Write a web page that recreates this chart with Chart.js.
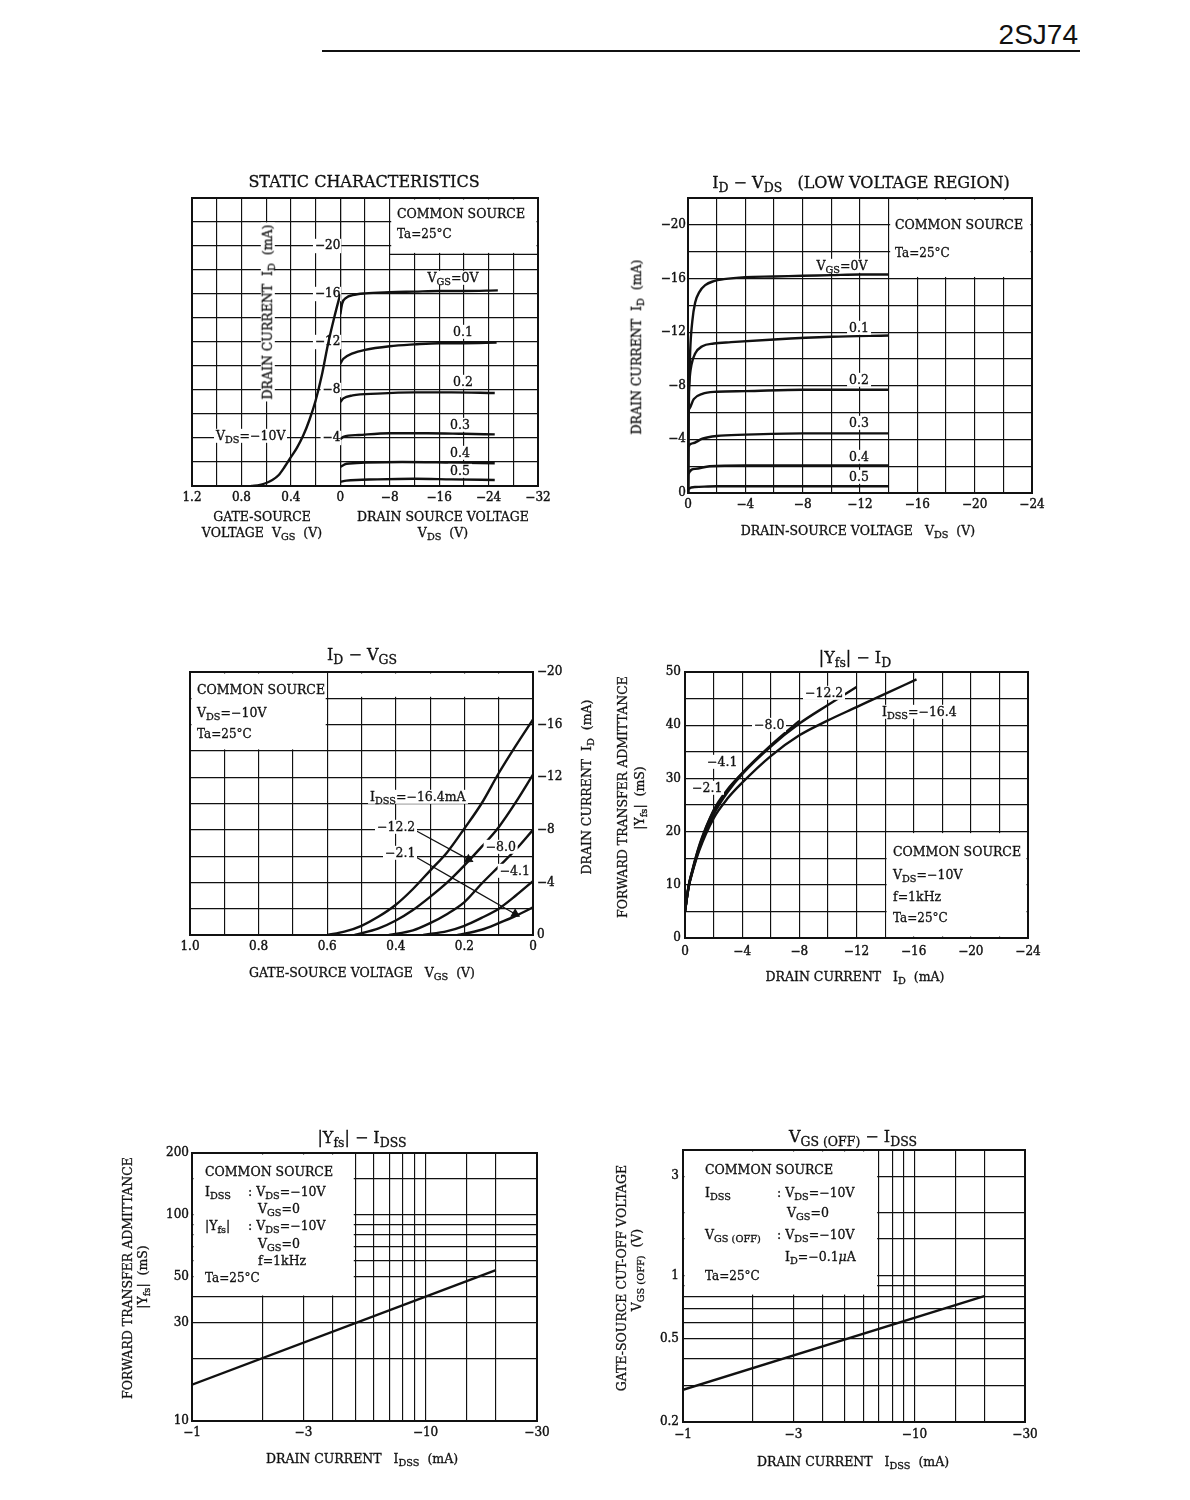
<!DOCTYPE html>
<html>
<head>
<meta charset="utf-8">
<title>2SJ74</title>
<script src="https://cdn.jsdelivr.net/npm/chart.js@4.4.1/dist/chart.umd.min.js"></script>
<style>
  body { margin: 0; background: #fff; }
  #page { position: relative; width: 1190px; height: 1500px; overflow: hidden; background: #fff;
          font-family: "DejaVu Serif", serif; color: #111; }
  #page canvas { position: absolute; }
  .t { position: absolute; white-space: nowrap; font-size: 12.5px; line-height: 1.15; z-index: 2;
       -webkit-text-stroke: 0.3px #111; }
  .t sub { font-size: 78%; vertical-align: -0.3em; line-height: 0; }
  .bg { background: #fff; padding: 0 2px; }
  .rule { position: absolute; background: #111; }
</style>
</head>
<body>
<div id="page"></div>
<script>
// ---- static characteristics: transfer curve at VDS=-10V (VGS axis) ----
const st_vgs = [0.72, 0.65, 0.6, 0.55, 0.5, 0.45, 0.4, 0.35, 0.3, 0.25, 0.2, 0.15, 0.1, 0.05, 0];
const st_id = [0, -0.1, -0.25, -0.5, -0.9, -1.6, -2.4, -3.2, -4.2, -5.5, -7.1, -9.2, -11.8, -14.0, -16.0];
// output curves (VDS axis), VGS = 0 ... 0.5 V
const st_vds0 = [0, -0.3, -1, -2, -4, -8, -12, -16, -20, -25.5];
const st_id0 = [-14.3, -15.2, -15.7, -15.9, -16.05, -16.15, -16.2, -16.25, -16.25, -16.3];
const st_vds1 = [0, -0.5, -2, -4, -8, -12, -16, -20, -25.3];
const st_id1 = [-10.2, -10.6, -11.05, -11.35, -11.65, -11.8, -11.9, -11.9, -11.95];
const st_vds2 = [0, -0.5, -2, -6, -12, -18, -25];
const st_id2 = [-7.0, -7.3, -7.55, -7.7, -7.8, -7.8, -7.75];
const st_vds3 = [0, -0.5, -3, -8, -14, -20, -25];
const st_id3 = [-3.9, -4.1, -4.25, -4.4, -4.4, -4.35, -4.3];
const st_vds4 = [0, -1, -4, -10, -18, -25];
const st_id4 = [-1.6, -1.85, -1.95, -2.0, -1.95, -1.9];
const st_vds5 = [0, -1, -6, -12, -18, -25];
const st_id5 = [-0.35, -0.45, -0.55, -0.6, -0.55, -0.5];

// ---- ID - VDS low voltage region ----
const lv_vds0 = [0, -0.05, -0.15, -0.3, -0.5, -0.8, -1.2, -1.8, -2.5, -4, -6, -8, -10, -12, -14];
const lv_id0 = [0, -6, -10.5, -12.8, -14.2, -15.0, -15.5, -15.8, -15.95, -16.1, -16.15, -16.2, -16.25, -16.3, -16.3];
const lv_vds1 = [0, -0.03, -0.1, -0.25, -0.5, -1, -1.8, -3, -6, -10, -14];
const lv_id1 = [0, -6, -8.3, -9.6, -10.4, -10.95, -11.15, -11.25, -11.45, -11.65, -11.75];
const lv_vds2 = [0, -0.02, -0.1, -0.4, -1, -2, -4, -8, -14];
const lv_id2 = [0, -5.5, -6.3, -7.0, -7.4, -7.55, -7.6, -7.7, -7.7];
const lv_vds3 = [0, -0.02, -0.3, -1, -2, -4, -8, -14];
const lv_id3 = [0, -3.4, -3.7, -4.05, -4.25, -4.35, -4.45, -4.45];
const lv_vds4 = [0, -0.02, -0.5, -1.5, -4, -14];
const lv_id4 = [0, -1.4, -1.8, -2.0, -2.05, -2.05];
const lv_vds5 = [0, -0.02, -0.5, -2, -8, -14];
const lv_id5 = [0, -0.3, -0.45, -0.5, -0.5, -0.5];

// ---- ID - VGS for several IDSS ----
const tr_vgs164 = [0.6, 0.55, 0.5, 0.45, 0.4, 0.35, 0.3, 0.25, 0.2, 0.15, 0.1, 0.05, 0];
const tr_id164 = [0, -0.25, -0.7, -1.4, -2.3, -3.5, -4.9, -6.3, -8.1, -10.0, -12.3, -14.4, -16.4];
const tr_vgs122 = [0.52, 0.45, 0.4, 0.35, 0.3, 0.25, 0.2, 0.15, 0.1, 0.05, 0];
const tr_id122 = [0, -0.5, -1.1, -1.9, -2.9, -4.0, -5.3, -6.7, -8.2, -10.1, -12.2];
const tr_vgs80 = [0.42, 0.35, 0.3, 0.25, 0.2, 0.15, 0.1, 0.05, 0];
const tr_id80 = [0, -0.35, -0.9, -1.6, -2.5, -3.9, -5.2, -6.5, -8.0];
const tr_vgs41 = [0.32, 0.25, 0.2, 0.15, 0.1, 0.05, 0];
const tr_id41 = [0, -0.3, -0.7, -1.3, -2.0, -3.0, -4.1];
const tr_vgs21 = [0.22, 0.15, 0.1, 0.05, 0];
const tr_id21 = [0, -0.4, -0.9, -1.45, -2.1];
const tr_arrow122_vgs = [0.353, 0.188];
const tr_arrow122_id = [-8.1, -5.75];
const tr_arrow21_vgs = [0.353, 0.052];
const tr_arrow21_id = [-6.1, -1.6];

// ---- |Yfs| - ID ----
const gm_id164 = [0, -0.25, -0.5, -1, -2, -3, -4, -6, -8, -10, -12, -14, -16.2];
const gm_y164 = [5, 9.5, 12.2, 16.5, 22.5, 26.3, 29.2, 34.2, 38.1, 40.9, 43.4, 45.9, 48.6];
const gm_id122 = [0, -0.25, -0.5, -1, -2, -3, -4, -6, -8, -10, -12];
const gm_y122 = [5, 9.5, 12.3, 16.8, 23.2, 27.5, 30.8, 36, 40.3, 43.8, 47.2];
const gm_id80 = [0, -0.25, -0.5, -1, -2, -3, -4, -6, -8];
const gm_y80 = [5, 9.6, 12.4, 17, 23.5, 27.8, 31, 36.2, 40.8];
const gm_id41 = [0, -0.25, -0.5, -1, -2, -3, -4.1];
const gm_y41 = [5, 9.7, 12.5, 17.2, 24, 28, 31.2];
const gm_id21 = [0, -0.25, -0.5, -1, -1.5, -2.1];
const gm_y21 = [5, 9.8, 12.6, 17.4, 21, 24.5];

// ---- |Yfs| - IDSS and VGS(OFF) - IDSS (IDSS magnitude, mA) ----
const yfs_idss = [1, 20];
const yfs_val = [15, 54];
const voff_idss = [1, 20];
const voff_val = [0.285, 0.8];

// tick label sets
const logXLabels = [1, 3, 10, 30];
const yfsYLabels = [10, 30, 50, 100, 200];
const voffYLabels = [0.2, 0.5, 1, 3];

const INK = '#111';
const TICK_FONT = {family: '"DejaVu Serif", serif', size: 12};
const PAD = {left: 60, right: 60, top: 20, bottom: 36};
const page = document.getElementById('page');

const neg = v => v === 0 ? '0' : (v < 0 ? '\u2212' : '') + Math.abs(v);
const near = (v, list) => list.some(t => Math.abs(v - t) < 1e-6 * Math.max(1, t));

function canvasFor(l, t, r, b) {
  const c = document.createElement('canvas');
  const w = r - l + PAD.left + PAD.right, h = b - t + PAD.top + PAD.bottom;
  c.width = w; c.height = h;
  c.style.left = (l - PAD.left) + 'px';
  c.style.top = (t - PAD.top) + 'px';
  c.style.width = w + 'px';
  c.style.height = h + 'px';
  page.appendChild(c);
  return c;
}

function put(x, y, html, o = {}) {
  const d = document.createElement('div');
  d.className = 't' + (o.bg ? ' bg' : '');
  d.innerHTML = html;
  d.style.left = x + 'px';
  d.style.top = y + 'px';
  if (o.size) d.style.fontSize = o.size + 'px';
  if (o.font) d.style.fontFamily = o.font;
  const ax = o.a === 'c' ? '-50%' : o.a === 'r' ? '-100%' : '0';
  d.style.transform = 'translate(' + ax + ',-50%)' + (o.rot ? ' rotate(' + o.rot + 'deg)' : '');
  page.appendChild(d);
  return d;
}

function ds(xs, ys, xAxisID, yAxisID, extra) {
  return Object.assign({
    data: xs.map((x, i) => ({x: x, y: ys[i]})),
    xAxisID: xAxisID || 'x', yAxisID: yAxisID || 'y',
    borderColor: INK, borderWidth: 2.4, pointRadius: 0, fill: false,
    cubicInterpolationMode: 'monotone'
  }, extra || {});
}

// axis boxes get exactly the canvas margin, so the plot area lands where the sheet has it
function axis(opts, ticks) {
  return Object.assign({
    type: 'linear',
    grid: {color: INK, lineWidth: 1.15, drawTicks: false},
    border: {display: false},
    afterFit: s => {
      if (s.isHorizontal()) s.height = PAD.bottom;
      else s.width = s.options.position === 'right' ? PAD.right : PAD.left;
    }
  }, opts, {
    ticks: Object.assign({color: INK, font: TICK_FONT, autoSkip: false, maxRotation: 0, padding: 4,
                          textStrokeColor: INK, textStrokeWidth: 0.4}, ticks)
  });
}

// white cut-outs for the annotation boxes, then the heavy frame
function sheet(masks) {
  return {
    id: 'sheet',
    beforeDatasetsDraw(chart) {
      const ctx = chart.ctx, a = chart.chartArea;
      ctx.save();
      masks.forEach(m => {
        const xs = chart.scales[m.xs || 'x'], ys = chart.scales[m.ys || 'y'];
        const xa = xs.getPixelForValue(m.x[0]), xb = xs.getPixelForValue(m.x[1]);
        const ya = ys.getPixelForValue(m.y[0]), yb = ys.getPixelForValue(m.y[1]);
        const l = Math.min(xa, xb), r = Math.max(xa, xb), t = Math.min(ya, yb), b = Math.max(ya, yb);
        ctx.fillStyle = '#fff';
        ctx.fillRect(l + 1.5, t + 1.5, r - l - 3, b - t - 3);
        ctx.strokeStyle = INK;
        ctx.lineWidth = 1.3;
        (m.edge || '').split('').forEach(e => {
          ctx.beginPath();
          if (e === 'b') { ctx.moveTo(l, b); ctx.lineTo(r, b); }
          if (e === 'l') { ctx.moveTo(l, t); ctx.lineTo(l, b); }
          ctx.stroke();
        });
      });
      ctx.strokeStyle = INK;
      ctx.lineWidth = 2;
      ctx.strokeRect(a.left, a.top, a.right - a.left, a.bottom - a.top);
      ctx.restore();
    }
  };
}

function baseOptions(scales, rightAxis) {
  return {
    responsive: false, animation: false, events: [],
    layout: {padding: {top: PAD.top, bottom: 0, left: rightAxis ? PAD.left : 0, right: rightAxis ? 0 : PAD.right},
             autoPadding: false},
    plugins: {legend: {display: false}, tooltip: {enabled: false}},
    scales: scales
  };
}

// ---------------- chart 1: static characteristics ----------------
new Chart(canvasFor(192, 198, 538, 486), {
  type: 'line',
  data: {datasets: [
    ds(st_vgs, st_id, 'xL', 'y'),
    ds(st_vds0, st_id0, 'xR', 'y'),
    ds(st_vds1, st_id1, 'xR', 'y'),
    ds(st_vds2, st_id2, 'xR', 'y'),
    ds(st_vds3, st_id3, 'xR', 'y'),
    ds(st_vds4, st_id4, 'xR', 'y'),
    ds(st_vds5, st_id5, 'xR', 'y')
  ]},
  options: baseOptions({
    xL: axis({axis: 'x', position: 'bottom', stack: 'st', stackWeight: 6, min: 0, max: 1.2, reverse: true},
      {stepSize: 0.2, padding: 5, callback: v => { const k = Math.round(v * 10); return k > 0 && k % 4 === 0 ? (k / 10).toFixed(1) : ''; }}),
    xR: axis({axis: 'x', position: 'bottom', stack: 'st', stackWeight: 8, min: -32, max: 0, reverse: true},
      {stepSize: 4, padding: 5, callback: v => v % 8 === 0 ? neg(v) : ''}),
    y: axis({axis: 'y', position: 'left', min: -24, max: 0, reverse: true}, {stepSize: 2, display: false}),
    yMid: axis({axis: 'y', position: {xR: 0}, min: -24, max: 0, reverse: true, grid: {display: false, drawTicks: false}},
      {stepSize: 4, padding: 2, showLabelBackdrop: true, backdropColor: '#fff',
       backdropPadding: {top: 0, bottom: 0, left: 2, right: 1},
       callback: v => v <= -4 && v >= -20 ? neg(v) : null})
  }),
  plugins: [sheet([{xs: 'xR', x: [-8, -32], y: [-24, -19.3], edge: 'b'}])]
});

// ---------------- chart 2: ID - VDS low voltage ----------------
new Chart(canvasFor(688, 198, 1032, 493), {
  type: 'line',
  data: {datasets: [
    ds(lv_vds0, lv_id0), ds(lv_vds1, lv_id1), ds(lv_vds2, lv_id2),
    ds(lv_vds3, lv_id3), ds(lv_vds4, lv_id4), ds(lv_vds5, lv_id5)
  ]},
  options: baseOptions({
    x: axis({position: 'bottom', min: -24, max: 0, reverse: true},
      {stepSize: 2, padding: 5, callback: v => v % 4 === 0 ? neg(v) : ''}),
    y: axis({position: 'left', min: -22, max: 0, reverse: true},
      {stepSize: 2, padding: 2, callback: v => v % 4 === 0 ? neg(v) : ''})
  }),
  plugins: [sheet([{x: [-14, -24], y: [-22, -16]}])]
});

// ---------------- chart 3: ID - VGS ----------------
new Chart(canvasFor(190, 672, 533, 935), {
  type: 'line',
  data: {datasets: [
    ds(tr_vgs164, tr_id164), ds(tr_vgs122, tr_id122), ds(tr_vgs80, tr_id80),
    ds(tr_vgs41, tr_id41), ds(tr_vgs21, tr_id21),
    ds(tr_arrow122_vgs, tr_arrow122_id, 'x', 'y', {borderWidth: 1.2, pointRadius: [0, 4.5], pointStyle: 'triangle',
      pointRotation: [0, 118], pointBackgroundColor: INK, pointBorderColor: INK}),
    ds(tr_arrow21_vgs, tr_arrow21_id, 'x', 'y', {borderWidth: 1.2, pointRadius: [0, 4.5], pointStyle: 'triangle',
      pointRotation: [0, 120], pointBackgroundColor: INK, pointBorderColor: INK})
  ]},
  options: baseOptions({
    x: axis({position: 'bottom', min: 0, max: 1, reverse: true},
      {stepSize: 0.1, padding: 5, callback: v => { const k = Math.round(v * 10); return k % 2 === 0 ? (k === 0 ? '0' : (k / 10).toFixed(1)) : ''; }}),
    y: axis({position: 'right', min: -20, max: 0, reverse: true},
      {stepSize: 2, padding: 4, callback: v => v % 4 === 0 ? neg(v) : ''})
  }, true),
  plugins: [sheet([{x: [1, 0.6], y: [-20, -14]}, {x: [0.6, 0], y: [-20, -18]}])]
});

// ---------------- chart 4: |Yfs| - ID ----------------
new Chart(canvasFor(685, 672, 1028, 938), {
  type: 'line',
  data: {datasets: [
    ds(gm_id164, gm_y164), ds(gm_id122, gm_y122), ds(gm_id80, gm_y80),
    ds(gm_id41, gm_y41), ds(gm_id21, gm_y21)
  ]},
  options: baseOptions({
    x: axis({position: 'bottom', min: -24, max: 0, reverse: true},
      {stepSize: 2, padding: 7, callback: v => v % 4 === 0 ? neg(v) : ''}),
    y: axis({position: 'left', min: 0, max: 50},
      {stepSize: 5, padding: 4, callback: v => v % 10 === 0 ? String(v) : ''})
  }),
  plugins: [sheet([{x: [-14, -24], y: [0, 20]}])]
});

// ---------------- chart 5: |Yfs| - IDSS ----------------
new Chart(canvasFor(192, 1153, 537, 1421), {
  type: 'line',
  data: {datasets: [ds(yfs_idss, yfs_val, 'x', 'y', {cubicInterpolationMode: 'default'})]},
  options: baseOptions({
    x: axis({type: 'logarithmic', position: 'bottom', min: 1, max: 30},
      {padding: 5, callback: v => near(v, logXLabels) ? '\u2212' + v : ''}),
    y: axis({type: 'logarithmic', position: 'left', min: 10, max: 200},
      {padding: 3, callback: v => near(v, yfsYLabels) ? String(v) : ''})
  }),
  plugins: [sheet([{x: [1, 5], y: [40, 200]}])]
});

// ---------------- chart 6: VGS(OFF) - IDSS ----------------
new Chart(canvasFor(683, 1150, 1025, 1422), {
  type: 'line',
  data: {datasets: [ds(voff_idss, voff_val, 'x', 'y', {cubicInterpolationMode: 'default'})]},
  options: baseOptions({
    x: axis({type: 'logarithmic', position: 'bottom', min: 1, max: 30},
      {padding: 6, callback: v => near(v, logXLabels) ? '\u2212' + v : ''}),
    y: axis({type: 'logarithmic', position: 'left', min: 0.2, max: 4},
      {padding: 4, callback: v => near(v, voffYLabels) ? String(v) : ''})
  }),
  plugins: [sheet([{x: [1, 7], y: [0.8, 4]}])]
});

// ---------------- texts ----------------
const sp = '&nbsp;&nbsp;';
put(1078, 35, '2SJ74', {a: 'r', size: 28, font: '"Liberation Sans", Arial, sans-serif'}).style.webkitTextStroke = '0';
const rule = document.createElement('div');
rule.className = 'rule';
Object.assign(rule.style, {left: '322px', top: '50px', width: '758px', height: '2px'});
page.appendChild(rule);

// chart 1
put(364, 182, 'STATIC CHARACTERISTICS', {a: 'c', size: 16});
put(397, 214, 'COMMON SOURCE');
put(397, 235, 'Ta=25°C', {size: 12});
put(453, 278, 'V<sub>GS</sub>=0V', {a: 'c', bg: 1});
put(463, 332, '0.1', {a: 'c', bg: 1});
put(463, 382, '0.2', {a: 'c', bg: 1});
put(460, 425, '0.3', {a: 'c', bg: 1});
put(460, 453, '0.4', {a: 'c', bg: 1});
put(460, 471, '0.5', {a: 'c', bg: 1});
put(214, 436, 'V<sub>DS</sub>=\u221210V', {bg: 1});
put(268, 312, 'DRAIN CURRENT' + sp + 'I<sub>D</sub>' + sp + '(mA)', {a: 'c', rot: -90, bg: 1});
put(262, 517, 'GATE-SOURCE', {a: 'c'});
put(262, 533, 'VOLTAGE' + sp + 'V<sub>GS</sub>' + sp + '(V)', {a: 'c'});
put(443, 517, 'DRAIN SOURCE VOLTAGE', {a: 'c'});
put(443, 533, 'V<sub>DS</sub>' + sp + '(V)', {a: 'c'});

// chart 2
put(861, 183, 'I<sub>D</sub> \u2212 V<sub>DS</sub>&nbsp;&nbsp;&nbsp;(LOW VOLTAGE REGION)', {a: 'c', size: 16});
put(895, 225, 'COMMON SOURCE');
put(895, 254, 'Ta=25°C', {size: 12});
put(842, 266, 'V<sub>GS</sub>=0V', {a: 'c', bg: 1});
put(859, 328, '0.1', {a: 'c', bg: 1});
put(859, 380, '0.2', {a: 'c', bg: 1});
put(859, 423, '0.3', {a: 'c', bg: 1});
put(859, 457, '0.4', {a: 'c', bg: 1});
put(859, 477, '0.5', {a: 'c', bg: 1});
put(637, 347, 'DRAIN CURRENT' + sp + 'I<sub>D</sub>' + sp + '(mA)', {a: 'c', rot: -90});
put(858, 531, 'DRAIN-SOURCE VOLTAGE&nbsp;&nbsp;&nbsp;V<sub>DS</sub>' + sp + '(V)', {a: 'c'});

// chart 3
put(362, 655, 'I<sub>D</sub> \u2212 V<sub>GS</sub>', {a: 'c', size: 16});
put(197, 690, 'COMMON SOURCE');
put(197, 713, 'V<sub>DS</sub>=\u221210V');
put(197, 735, 'Ta=25°C', {size: 12});
put(368, 797, 'I<sub>DSS</sub>=\u221216.4mA', {bg: 1});
put(375, 827, '\u221212.2', {bg: 1});
put(383, 853, '\u22122.1', {bg: 1});
put(518, 847, '\u22128.0', {a: 'r', bg: 1});
put(532, 871, '\u22124.1', {a: 'r', bg: 1});
put(587, 787, 'DRAIN CURRENT' + sp + 'I<sub>D</sub>' + sp + '(mA)', {a: 'c', rot: -90});
put(362, 973, 'GATE-SOURCE VOLTAGE&nbsp;&nbsp;&nbsp;V<sub>GS</sub>' + sp + '(V)', {a: 'c'});

// chart 4
put(855, 658, '|Y<sub>fs</sub>| \u2212 I<sub>D</sub>', {a: 'c', size: 16});
put(893, 852, 'COMMON SOURCE');
put(893, 875, 'V<sub>DS</sub>=\u221210V');
put(893, 897, 'f=1kHz');
put(893, 919, 'Ta=25°C', {size: 12});
put(880, 712, 'I<sub>DSS</sub>=\u221216.4', {bg: 1});
put(803, 693, '\u221212.2', {bg: 1});
put(752, 725, '\u22128.0', {bg: 1});
put(705, 762, '\u22124.1', {bg: 1});
put(690, 788, '\u22122.1', {bg: 1});
put(623, 797, 'FORWARD TRANSFER ADMITTANCE', {a: 'c', rot: -90});
put(640, 798, '|Y<sub>fs</sub>|' + sp + '(mS)', {a: 'c', rot: -90});
put(855, 977, 'DRAIN CURRENT&nbsp;&nbsp;&nbsp;I<sub>D</sub>' + sp + '(mA)', {a: 'c'});

// chart 5
put(362, 1138, '|Y<sub>fs</sub>| \u2212 I<sub>DSS</sub>', {a: 'c', size: 16});
put(205, 1172, 'COMMON SOURCE');
put(205, 1192, 'I<sub>DSS</sub>');
put(248, 1192, ': V<sub>DS</sub>=\u221210V');
put(258, 1209, 'V<sub>GS</sub>=0');
put(205, 1226, '|Y<sub>fs</sub>|');
put(248, 1226, ': V<sub>DS</sub>=\u221210V');
put(258, 1244, 'V<sub>GS</sub>=0');
put(258, 1261, 'f=1kHz');
put(205, 1279, 'Ta=25°C', {size: 12});
put(128, 1278, 'FORWARD TRANSFER ADMITTANCE', {a: 'c', rot: -90});
put(143, 1277, '|Y<sub>fs</sub>|' + sp + '(mS)', {a: 'c', rot: -90});
put(362, 1459, 'DRAIN CURRENT&nbsp;&nbsp;&nbsp;I<sub>DSS</sub>' + sp + '(mA)', {a: 'c'});

// chart 6
put(853, 1137, 'V<sub>GS (OFF)</sub> \u2212 I<sub>DSS</sub>', {a: 'c', size: 16});
put(705, 1170, 'COMMON SOURCE');
put(705, 1193, 'I<sub>DSS</sub>');
put(777, 1193, ': V<sub>DS</sub>=\u221210V');
put(787, 1213, 'V<sub>GS</sub>=0');
put(705, 1235, 'V<sub>GS (OFF)</sub>');
put(777, 1235, ': V<sub>DS</sub>=\u221210V');
put(785, 1257, 'I<sub>D</sub>=\u22120.1<i>\u03bc</i>A');
put(705, 1277, 'Ta=25°C', {size: 12});
put(622, 1278, 'GATE-SOURCE CUT-OFF VOLTAGE', {a: 'c', rot: -90});
put(637, 1270, 'V<sub>GS (OFF)</sub>' + sp + '(V)', {a: 'c', rot: -90});
put(853, 1462, 'DRAIN CURRENT&nbsp;&nbsp;&nbsp;I<sub>DSS</sub>' + sp + '(mA)', {a: 'c'});
</script>
</body>
</html>
